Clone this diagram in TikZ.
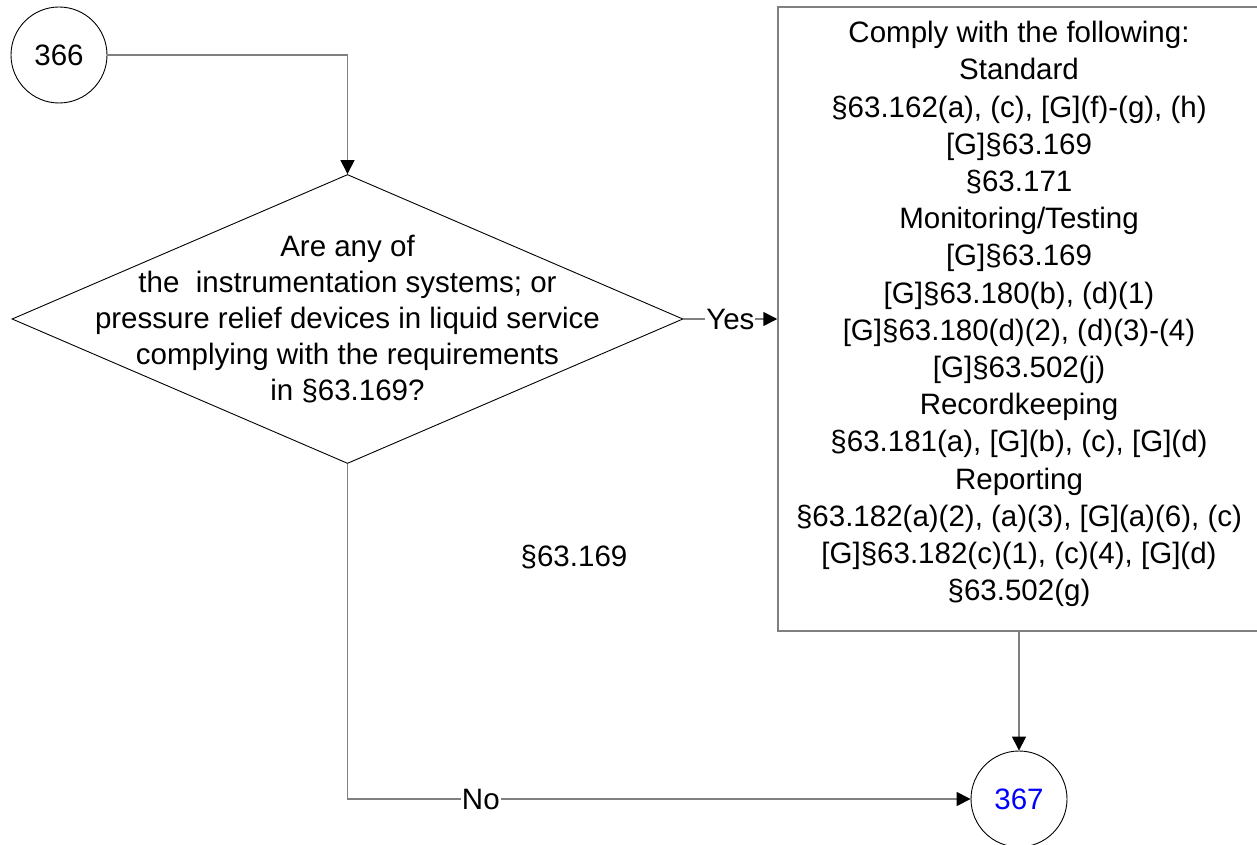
\documentclass[tikz,border=0pt]{standalone}
\usepackage{fontspec}
\setmainfont{Liberation Sans}
\usetikzlibrary{shapes.geometric,arrows.meta}
\definecolor{linegray}{HTML}{808080}
\definecolor{numblue}{HTML}{0000FF}
\begin{document}
\begin{tikzpicture}[x=1pt,y=-1pt,
  every node/.style={font=\fontsize{29.5}{35.8}\selectfont},
  conn/.style={draw=linegray,line width=1.5pt},
  arr/.style={conn,-{Triangle[length=14pt,width=14pt,fill=black,color=black]}},
  offpage/.style={circle,draw=black,line width=0.9pt,minimum size=96pt,inner sep=0pt},
  decision/.style={diamond,draw=black,line width=0.9pt,minimum width=671pt,minimum height=289pt,inner sep=0pt},
  actbox/.style={rectangle,draw=linegray,line width=1.5pt,minimum width=482pt,minimum height=624pt,inner sep=0pt},
  lbl/.style={fill=white,inner sep=1pt}]
\useasboundingbox (0,0) rectangle (1257,845);
\fill[white] (0,0) rectangle (1257,845);
\node[offpage] (c366) at (59,55) {366};
\node[offpage,text=numblue] (c367) at (1019,799) {367};
\node[decision] (dec) at (347.5,319) {};
\node[align=center] (dect) at (347.5,319) {Are any of\\the\ \ instrumentation systems; or\\pressure relief devices in liquid service\\complying with the requirements\\in §63.169?};
\node[actbox] (box) at (1019,319) {};
\node[align=center,font=\fontsize{29.5}{37.2}\selectfont] (boxt) at (1019,314) {Comply with the following:\\Standard\\§63.162(a), (c), {[G]}(f)-(g), (h)\\{[G]}§63.169\\§63.171\\Monitoring/Testing\\{[G]}§63.169\\{[G]}§63.180(b), (d)(1)\\{[G]}§63.180(d)(2), (d)(3)-(4)\\{[G]}§63.502(j)\\Recordkeeping\\§63.181(a), [G](b), (c), [G](d)\\Reporting\\§63.182(a)(2), (a)(3), [G](a)(6), (c)\\{[G]}§63.182(c)(1), (c)(4), [G](d)\\§63.502(g)};
\node (ref) at (574,557) {§63.169};
\draw[arr] (c366.east) -| (dec.north);
\draw[arr] (dec.east) -- node[lbl] {Yes} (box.west);
\draw[arr] (dec.south) |- node[lbl,pos=0.607] {No} (c367.west);
\draw[arr] (box.south) -- (c367.north);
\end{tikzpicture}
\end{document}
